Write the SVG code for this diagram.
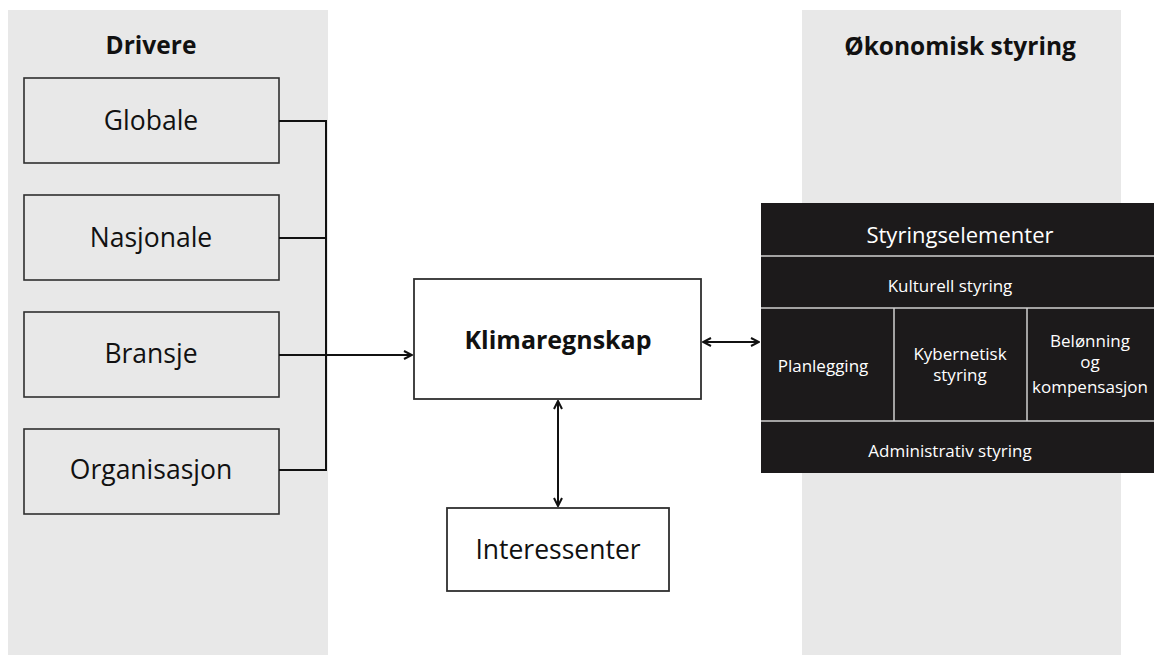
<svg xmlns="http://www.w3.org/2000/svg" width="1154" height="655" viewBox="0 0 1154 655">
<defs>
<style>
.panel{fill:#e8e8e8}
.drv{fill:#e8e8e8;stroke:#2f2f2f;stroke-width:1.6}
.wbox{fill:#ffffff;stroke:#2f2f2f;stroke-width:1.8}
.t{font-family:"Open Sans","Liberation Sans",sans-serif;fill:#111;text-anchor:middle}
.tb{font-family:"Open Sans","Liberation Sans",sans-serif;font-weight:bold;fill:#111;text-anchor:middle}
.tw{font-family:"Open Sans","Liberation Sans",sans-serif;fill:#ffffff;text-anchor:middle}
.line{fill:none;stroke:#111;stroke-width:2}
.sep{fill:none;stroke:#d0d0d0;stroke-width:1.5}
</style>
<marker id="ah" viewBox="0 0 10 10" refX="9" refY="5" markerWidth="10" markerHeight="10" markerUnits="userSpaceOnUse" orient="auto-start-reverse">
<path d="M1,1 L9,5 L1,9" fill="none" stroke="#111" stroke-width="2"/>
</marker>
</defs>
<rect width="1154" height="655" fill="#ffffff"/>
<g id="panel-drivere">
<rect class="panel" x="8" y="10" width="320" height="645"/>
<text class="tb" x="151" y="54" font-size="24.5">Drivere</text>
</g>
<g id="panel-okonomisk">
<rect class="panel" x="802" y="10" width="319" height="645"/>
<text class="tb" x="960" y="55" font-size="24.5">Økonomisk styring</text>
</g>
<g id="node-globale">
<rect class="drv" x="24" y="78" width="255" height="85"/>
<text class="t" x="151" y="130" font-size="26.5">Globale</text>
</g>
<g id="node-nasjonale">
<rect class="drv" x="24" y="195" width="255" height="85"/>
<text class="t" x="151" y="247" font-size="26.5">Nasjonale</text>
</g>
<g id="node-bransje">
<rect class="drv" x="24" y="312" width="255" height="85"/>
<text class="t" x="151" y="363" font-size="26.5">Bransje</text>
</g>
<g id="node-organisasjon">
<rect class="drv" x="24" y="429" width="255" height="85"/>
<text class="t" x="151" y="479" font-size="26.5">Organisasjon</text>
</g>
<g id="node-klimaregnskap">
<rect class="wbox" x="414" y="279" width="287" height="120"/>
<text class="tb" x="558" y="349" font-size="25">Klimaregnskap</text>
</g>
<g id="node-interessenter">
<rect class="wbox" x="447" y="508" width="222" height="83"/>
<text class="t" x="558" y="559" font-size="26.5">Interessenter</text>
</g>
<g id="node-styringselementer">
<rect x="761" y="203" width="393" height="270" fill="#1c1a1b"/>
<path class="sep" d="M761,256 H1154 M761,308 H1154 M761,421 H1154 M894,308 V421 M1027,308 V421"/>
<text class="tw" x="960" y="243" font-size="22">Styringselementer</text>
<text class="tw" x="950" y="292" font-size="17">Kulturell styring</text>
<text class="tw" x="823" y="372" font-size="17">Planlegging</text>
<text class="tw" x="960" y="360" font-size="17">Kybernetisk</text>
<text class="tw" x="960" y="381" font-size="17">styring</text>
<text class="tw" x="1090" y="347" font-size="17">Belønning</text>
<text class="tw" x="1090" y="368" font-size="17">og</text>
<text class="tw" x="1090" y="393" font-size="17">kompensasjon</text>
<text class="tw" x="950" y="457" font-size="17">Administrativ styring</text>
</g>
<g id="connectors">
<path class="line" d="M279,121 H326 V470 H279"/>
<path class="line" d="M279,238 H326"/>
<path class="line" d="M279,355 H412" marker-end="url(#ah)"/>
<path class="line" d="M703,342 H759" marker-start="url(#ah)" marker-end="url(#ah)"/>
<path class="line" d="M558,401 V506" marker-start="url(#ah)" marker-end="url(#ah)"/>
</g>
</svg>
